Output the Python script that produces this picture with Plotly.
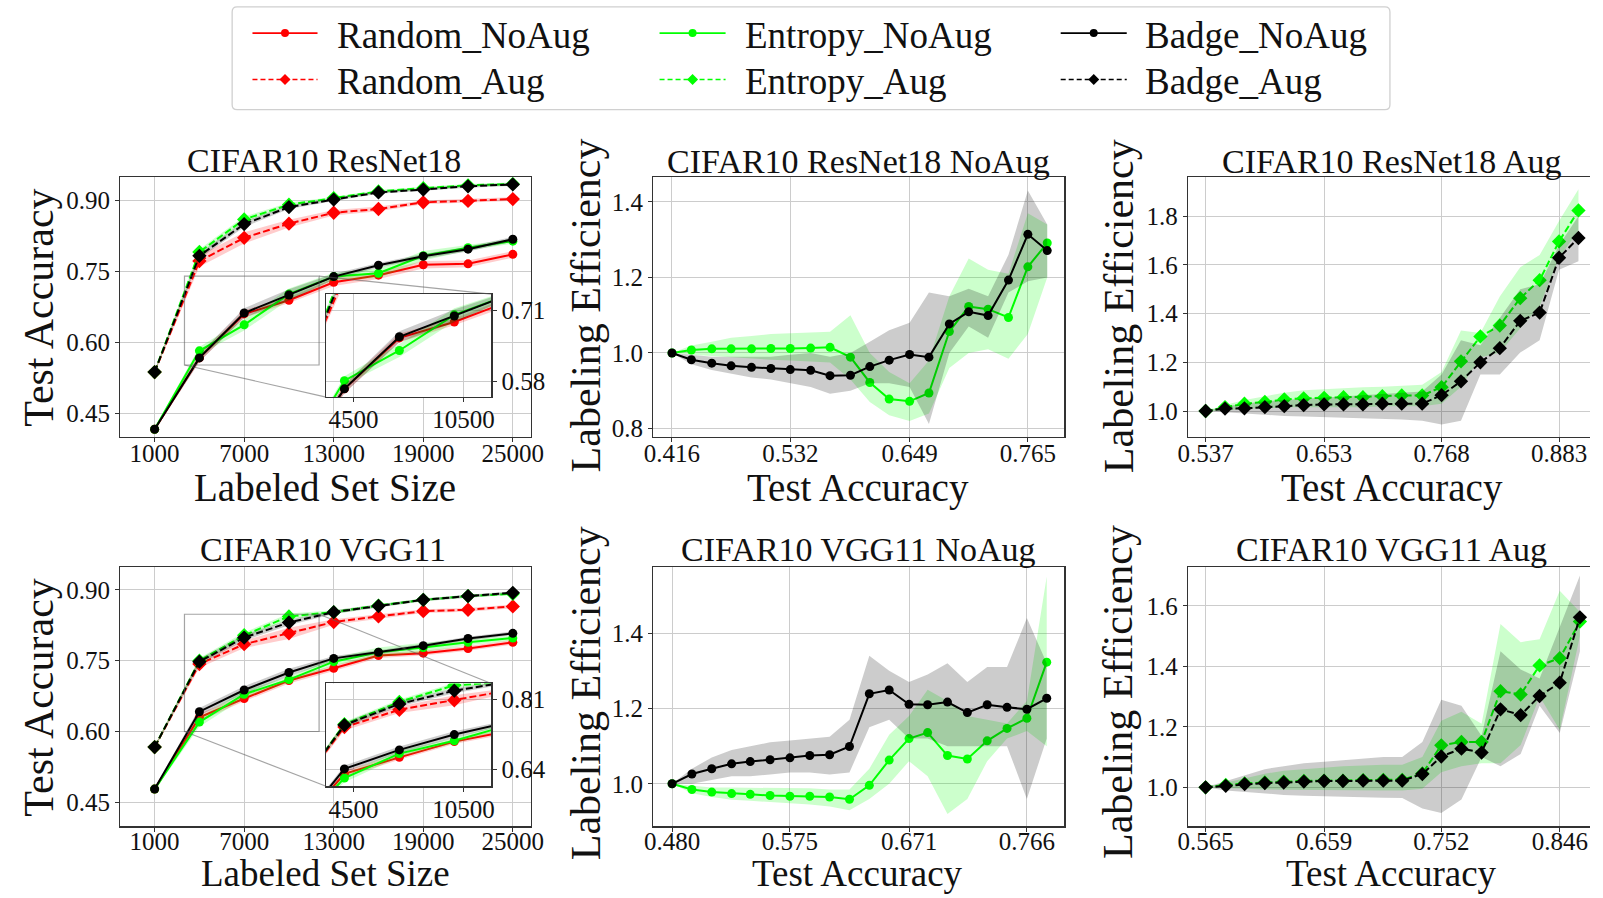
import plotly.graph_objects as go

W, H = 1603, 898
FONT = "Liberation Serif"

# ---------------- data ----------------
sizes = [1000, 4000, 7000, 10000, 13000, 16000, 19000, 22000, 25000]

# CIFAR10 ResNet18 test accuracy (mean, spread)
r18 = {
    "Random_NoAug":  [0.416, 0.567, 0.660, 0.689, 0.727, 0.742, 0.764, 0.766, 0.786],
    "Random_Aug":    [0.537, 0.772, 0.821, 0.851, 0.874, 0.882, 0.896, 0.899, 0.903],
    "Entropy_NoAug": [0.416, 0.582, 0.637, 0.702, 0.739, 0.746, 0.783, 0.800, 0.814],
    "Entropy_Aug":   [0.537, 0.791, 0.860, 0.891, 0.905, 0.919, 0.926, 0.932, 0.935],
    "Badge_NoAug":   [0.416, 0.567, 0.662, 0.700, 0.739, 0.763, 0.782, 0.797, 0.818],
    "Badge_Aug":     [0.537, 0.783, 0.850, 0.886, 0.902, 0.917, 0.923, 0.930, 0.934],
}
r18_sd = {
    "Random_NoAug":  [0.003, 0.008, 0.008, 0.006, 0.008, 0.008, 0.008, 0.007, 0.007],
    "Random_Aug":    [0.003, 0.012, 0.012, 0.008, 0.006, 0.005, 0.004, 0.004, 0.004],
    "Entropy_NoAug": [0.003, 0.008, 0.012, 0.012, 0.008, 0.010, 0.010, 0.006, 0.005],
    "Entropy_Aug":   [0.003, 0.006, 0.006, 0.004, 0.003, 0.003, 0.003, 0.003, 0.003],
    "Badge_NoAug":   [0.003, 0.008, 0.010, 0.012, 0.006, 0.005, 0.005, 0.005, 0.005],
    "Badge_Aug":     [0.003, 0.006, 0.006, 0.004, 0.003, 0.003, 0.003, 0.003, 0.003],
}
# CIFAR10 VGG11 test accuracy
vgg = {
    "Random_NoAug":  [0.478, 0.630, 0.670, 0.708, 0.734, 0.761, 0.766, 0.776, 0.789],
    "Random_Aug":    [0.567, 0.743, 0.785, 0.808, 0.832, 0.844, 0.855, 0.858, 0.865],
    "Entropy_NoAug": [0.478, 0.620, 0.679, 0.710, 0.748, 0.768, 0.778, 0.789, 0.798],
    "Entropy_Aug":   [0.567, 0.750, 0.804, 0.844, 0.853, 0.867, 0.879, 0.887, 0.892],
    "Badge_NoAug":   [0.478, 0.642, 0.688, 0.725, 0.755, 0.768, 0.782, 0.797, 0.808],
    "Badge_Aug":     [0.567, 0.748, 0.799, 0.831, 0.853, 0.866, 0.879, 0.887, 0.894],
}
vgg_sd = {
    "Random_NoAug":  [0.003, 0.008, 0.006, 0.006, 0.006, 0.005, 0.005, 0.005, 0.005],
    "Random_Aug":    [0.003, 0.008, 0.008, 0.012, 0.006, 0.005, 0.004, 0.004, 0.004],
    "Entropy_NoAug": [0.003, 0.010, 0.008, 0.006, 0.008, 0.010, 0.010, 0.006, 0.005],
    "Entropy_Aug":   [0.003, 0.006, 0.006, 0.006, 0.004, 0.003, 0.003, 0.003, 0.003],
    "Badge_NoAug":   [0.003, 0.008, 0.008, 0.008, 0.005, 0.004, 0.004, 0.004, 0.004],
    "Badge_Aug":     [0.003, 0.006, 0.006, 0.006, 0.004, 0.003, 0.003, 0.003, 0.003],
}

# Labeling efficiency: ResNet18 NoAug
r18_noaug_acc = [0.416, 0.435, 0.455, 0.474, 0.494, 0.513, 0.532, 0.552, 0.571, 0.591,
                 0.610, 0.629, 0.649, 0.668, 0.688, 0.707, 0.726, 0.746, 0.765, 0.784]
r18_noaug_ent = [1.0, 1.008, 1.011, 1.011, 1.011, 1.012, 1.012, 1.013, 1.015, 0.989,
                 0.922, 0.878, 0.872, 0.894, 1.057, 1.123, 1.116, 1.094, 1.228, 1.291]
r18_noaug_ent_hi = [1.0, 1.02, 1.03, 1.04, 1.045, 1.05, 1.052, 1.054, 1.056, 1.10,
                    1.00, 0.95, 0.92, 0.98, 1.15, 1.25, 1.22, 1.21, 1.37, 1.34]
r18_noaug_ent_lo = [1.0, 0.995, 0.99, 0.988, 0.985, 0.982, 0.98, 0.978, 0.975, 0.93,
                    0.87, 0.835, 0.82, 0.84, 0.96, 1.00, 1.01, 0.985, 1.05, 1.20]
r18_noaug_bdg = [1.0, 0.982, 0.973, 0.966, 0.962, 0.959, 0.956, 0.954, 0.940, 0.941,
                 0.964, 0.981, 0.996, 0.989, 1.077, 1.109, 1.099, 1.193, 1.314, 1.271]
r18_noaug_bdg_hi = [1.0, 0.995, 0.99, 0.99, 0.99, 0.99, 0.995, 1.0, 0.99, 1.0,
                    1.03, 1.06, 1.08, 1.16, 1.15, 1.17, 1.15, 1.26, 1.43, 1.34]
r18_noaug_bdg_lo = [1.0, 0.97, 0.955, 0.945, 0.935, 0.93, 0.92, 0.91, 0.892, 0.90,
                    0.92, 0.92, 0.91, 0.812, 1.00, 1.07, 1.04, 1.16, 1.19, 1.20]

# Labeling efficiency: ResNet18 Aug
r18_aug_acc = [0.537, 0.556, 0.575, 0.595, 0.614, 0.633, 0.653, 0.672, 0.691, 0.710,
               0.729, 0.749, 0.768, 0.787, 0.806, 0.825, 0.845, 0.864, 0.883, 0.902]
r18_aug_ent = [1.0, 1.016, 1.030, 1.037, 1.048, 1.052, 1.054, 1.057, 1.057, 1.061,
               1.064, 1.064, 1.098, 1.204, 1.306, 1.351, 1.463, 1.537, 1.696, 1.823]
r18_aug_ent_hi = [1.0, 1.025, 1.045, 1.06, 1.075, 1.085, 1.09, 1.095, 1.098, 1.10,
                  1.105, 1.108, 1.16, 1.33, 1.32, 1.47, 1.59, 1.64, 1.78, 1.91]
r18_aug_ent_lo = [1.0, 1.0, 1.01, 1.01, 1.015, 1.015, 1.015, 1.015, 1.015, 1.02,
                  1.02, 1.02, 1.03, 1.10, 1.22, 1.24, 1.34, 1.43, 1.63, 1.74]
r18_aug_bdg = [1.0, 1.010, 1.011, 1.016, 1.020, 1.024, 1.027, 1.027, 1.027, 1.030,
               1.030, 1.030, 1.065, 1.122, 1.200, 1.258, 1.370, 1.404, 1.629, 1.710]
r18_aug_bdg_hi = [1.0, 1.02, 1.03, 1.04, 1.045, 1.05, 1.055, 1.06, 1.065, 1.07,
                  1.075, 1.08, 1.15, 1.29, 1.27, 1.38, 1.50, 1.52, 1.68, 1.80]
r18_aug_bdg_lo = [1.0, 0.995, 0.99, 0.985, 0.98, 0.978, 0.975, 0.972, 0.97, 0.968,
                  0.965, 0.96, 0.945, 0.96, 1.15, 1.15, 1.24, 1.29, 1.58, 1.615]

# Labeling efficiency: VGG11 NoAug
vgg_noaug_acc = [0.480, 0.496, 0.512, 0.528, 0.543, 0.559, 0.575, 0.591, 0.607, 0.623,
                 0.639, 0.655, 0.671, 0.686, 0.702, 0.718, 0.734, 0.750, 0.766, 0.782]
vgg_noaug_ent = [1.0, 0.985, 0.978, 0.974, 0.972, 0.969, 0.967, 0.967, 0.965, 0.959,
                 0.996, 1.063, 1.120, 1.136, 1.075, 1.066, 1.114, 1.147, 1.174, 1.323]
vgg_noaug_ent_hi = [1.0, 0.995, 0.99, 0.99, 0.99, 0.99, 0.988, 0.988, 0.985, 0.985,
                    1.04, 1.13, 1.18, 1.25, 1.22, 1.18, 1.17, 1.16, 1.22, 1.55]
vgg_noaug_ent_lo = [1.0, 0.975, 0.965, 0.958, 0.955, 0.95, 0.948, 0.945, 0.94, 0.93,
                    0.96, 1.00, 1.06, 1.02, 0.92, 0.96, 1.06, 1.12, 1.14, 1.10]
vgg_noaug_bdg = [1.0, 1.026, 1.040, 1.053, 1.059, 1.064, 1.069, 1.075, 1.077, 1.099,
                 1.239, 1.249, 1.211, 1.210, 1.217, 1.189, 1.210, 1.203, 1.198, 1.227]
vgg_noaug_bdg_hi = [1.0, 1.04, 1.07, 1.09, 1.10, 1.11, 1.115, 1.12, 1.125, 1.17,
                    1.34, 1.30, 1.27, 1.29, 1.32, 1.27, 1.31, 1.31, 1.44, 1.32]
vgg_noaug_bdg_lo = [1.0, 1.0, 1.01, 1.02, 1.02, 1.025, 1.03, 1.03, 1.025, 1.03,
                    1.15, 1.17, 1.12, 1.12, 1.10, 1.10, 1.10, 1.10, 0.96, 1.12]

# Labeling efficiency: VGG11 Aug
vgg_aug_acc = [0.565, 0.581, 0.596, 0.612, 0.627, 0.643, 0.659, 0.674, 0.690, 0.706,
               0.721, 0.737, 0.752, 0.768, 0.784, 0.799, 0.815, 0.830, 0.846, 0.862]
vgg_aug_ent = [1.0, 1.008, 1.013, 1.016, 1.019, 1.021, 1.022, 1.022, 1.024, 1.025,
               1.025, 1.046, 1.139, 1.150, 1.150, 1.318, 1.307, 1.403, 1.427, 1.548]
vgg_aug_ent_hi = [1.0, 1.015, 1.03, 1.045, 1.055, 1.06, 1.065, 1.07, 1.072, 1.075,
                  1.075, 1.10, 1.22, 1.25, 1.21, 1.54, 1.48, 1.49, 1.65, 1.58]
vgg_aug_ent_lo = [1.0, 0.998, 0.995, 0.993, 0.992, 0.99, 0.99, 0.99, 0.99, 0.99,
                  0.99, 0.995, 1.05, 1.07, 1.08, 1.08, 1.14, 1.30, 1.19, 1.50]
vgg_aug_bdg = [1.0, 1.005, 1.011, 1.014, 1.016, 1.019, 1.021, 1.021, 1.022, 1.022,
               1.022, 1.044, 1.102, 1.128, 1.115, 1.258, 1.239, 1.302, 1.346, 1.562]
vgg_aug_bdg_hi = [1.0, 1.02, 1.04, 1.06, 1.07, 1.08, 1.085, 1.09, 1.095, 1.10,
                  1.10, 1.15, 1.29, 1.27, 1.17, 1.45, 1.39, 1.36, 1.53, 1.70]
vgg_aug_bdg_lo = [1.0, 0.99, 0.985, 0.98, 0.975, 0.972, 0.97, 0.968, 0.967, 0.966,
                  0.965, 0.93, 0.915, 0.96, 1.10, 1.07, 1.11, 1.27, 1.18, 1.45]

size_ticks = [1000, 7000, 13000, 19000, 25000]
size_ticktext = ["1000", "7000", "13000", "19000", "25000"]
acc_ticks = [0.45, 0.60, 0.75, 0.90]
inset_x_ticks = [4500, 10500]
inset_r18_y_ticks = [0.58, 0.71]
inset_vgg_y_ticks = [0.64, 0.81]

series_order = ["Random_NoAug", "Random_Aug", "Entropy_NoAug", "Entropy_Aug",
                "Badge_NoAug", "Badge_Aug"]

# ---------------- styles ----------------
COL = {"Random": "#ff0000", "Entropy": "#00ff00", "Badge": "#000000"}
BAND = {"Random": "rgba(255,0,0,0.2)", "Entropy": "rgba(0,255,0,0.2)",
        "Badge": "rgba(0,0,0,0.2)"}


def style_of(name):
    method, aug = name.split("_")
    if aug == "Aug":
        return COL[method], BAND[method], "7px,3px", "diamond", 11
    return COL[method], BAND[method], "solid", "circle", 9


fig = go.Figure()


def add_band(x, lo, hi, fillcolor, ax):
    fig.add_trace(go.Scatter(
        x=list(x) + list(x)[::-1], y=list(hi) + list(lo)[::-1],
        fill="toself", fillcolor=fillcolor, line=dict(width=0),
        mode="lines", hoverinfo="skip", showlegend=False,
        xaxis="x" + ax, yaxis="y" + ax))


def add_line(x, y, name, ax):
    c, b, dash, sym, ms = style_of(name)
    fig.add_trace(go.Scatter(
        x=x, y=y, mode="lines+markers", name=name, showlegend=False,
        line=dict(color=c, width=2, dash=dash),
        marker=dict(color=c, symbol=sym, size=ms, line=dict(width=0)),
        xaxis="x" + ax, yaxis="y" + ax))


def acc_panel(data, sd, ax):
    for name in series_order:
        c, b, *_ = style_of(name)
        y = data[name]
        s = sd[name]
        add_band(sizes, [v - e for v, e in zip(y, s)],
                 [v + e for v, e in zip(y, s)], b, ax)
        add_line(sizes, y, name, ax)


def le_panel(x, ent, ent_lo, ent_hi, bdg, bdg_lo, bdg_hi, aug, ax):
    suffix = "Aug" if aug else "NoAug"
    add_band(x, ent_lo, ent_hi, BAND["Entropy"], ax)
    add_line(x, ent, "Entropy_" + suffix, ax)
    add_band(x, bdg_lo, bdg_hi, BAND["Badge"], ax)
    add_line(x, bdg, "Badge_" + suffix, ax)


acc_panel(r18, r18_sd, "")
le_panel(r18_noaug_acc, r18_noaug_ent, r18_noaug_ent_lo, r18_noaug_ent_hi,
         r18_noaug_bdg, r18_noaug_bdg_lo, r18_noaug_bdg_hi, False, "2")
le_panel(r18_aug_acc, r18_aug_ent, r18_aug_ent_lo, r18_aug_ent_hi,
         r18_aug_bdg, r18_aug_bdg_lo, r18_aug_bdg_hi, True, "3")
acc_panel(vgg, vgg_sd, "4")
le_panel(vgg_noaug_acc, vgg_noaug_ent, vgg_noaug_ent_lo, vgg_noaug_ent_hi,
         vgg_noaug_bdg, vgg_noaug_bdg_lo, vgg_noaug_bdg_hi, False, "5")
le_panel(vgg_aug_acc, vgg_aug_ent, vgg_aug_ent_lo, vgg_aug_ent_hi,
         vgg_aug_bdg, vgg_aug_bdg_lo, vgg_aug_bdg_hi, True, "6")
acc_panel(r18, r18_sd, "7")   # zoom inset ResNet18
acc_panel(vgg, vgg_sd, "8")   # zoom inset VGG11

# ---------------- layout geometry (pixels) ----------------
def px(p):
    return p / W


def py(p):
    return 1 - p / H


LX, MX, RX = (111.9, 528.3), (652.7, 1069.7), (1195.2, 1603.0)
TY, BY = (178.3, 439.3), (570.0, 831.0)
IX, ITY, IBY = (320.7, 488.3), (295.7, 399.3), (687.3, 790.7)


def xdom(a):
    return [px(a[0]), px(a[1])]


def ydom(a):
    return [py(a[1]), py(a[0])]


TICKFONT = dict(family=FONT, size=25, color="#111111")


def axis(dom, rng, anchor, tickvals, ticktext=None, tickformat=None,
         mirror=True, side=None, standoff=None):
    d = dict(domain=dom, range=rng, anchor=anchor, showline=True,
             linecolor="#333333", linewidth=1.3, mirror=mirror,
             ticks="outside", ticklen=4, tickwidth=1, tickcolor="#333333",
             showgrid=True, gridcolor="#cccccc", gridwidth=1, zeroline=False,
             tickfont=TICKFONT, tickvals=tickvals, fixedrange=True)
    if ticktext is not None:
        d["ticktext"] = ticktext
    if tickformat is not None:
        d["tickformat"] = tickformat
    if side is not None:
        d["side"] = side
    if standoff is not None:
        d["ticklabelstandoff"] = standoff
    return d


def pick(lst):
    return [lst[0], lst[6], lst[12], lst[18]]


def fmt3(lst):
    return ["%.3f" % v for v in pick(lst)]


R18_INSET_X, R18_INSET_Y = [3000, 12020], [0.552, 0.740]
VGG_INSET_X, VGG_INSET_Y = [3000, 12020], [0.600, 0.8485]
XS = -10   # x tick label standoff (top row)
XSB = -12  # x tick label standoff (bottom row)
XSI = -4   # x tick label standoff (insets)

layout_axes = dict(
    xaxis=axis(xdom(LX), [-1300, 26200], "y", size_ticks, size_ticktext, standoff=XS),
    yaxis=axis(ydom(TY), [0.400, 0.949], "x", acc_ticks, tickformat=".2f"),
    xaxis2=axis(xdom(MX), [0.3977, 0.8008], "y2", pick(r18_noaug_acc), fmt3(r18_noaug_acc),
                standoff=XS),
    yaxis2=axis(ydom(TY), [0.778, 1.465], "x2", [0.8, 1.0, 1.2, 1.4], tickformat=".1f"),
    xaxis3=axis(xdom(RX), [0.5198, 0.9133], "y3", pick(r18_aug_acc), fmt3(r18_aug_acc),
                standoff=XS),
    yaxis3=axis(ydom(TY), [0.894, 1.959], "x3", [1.0, 1.2, 1.4, 1.6, 1.8],
                tickformat=".1f", mirror=False),
    xaxis4=axis(xdom(LX), [-1300, 26200], "y4", size_ticks, size_ticktext, standoff=XSB),
    yaxis4=axis(ydom(BY), [0.399, 0.949], "x4", acc_ticks, tickformat=".2f"),
    xaxis5=axis(xdom(MX), [0.4649, 0.7962], "y5", pick(vgg_noaug_acc), fmt3(vgg_noaug_acc),
                standoff=XSB),
    yaxis5=axis(ydom(BY), [0.887, 1.576], "x5", [1.0, 1.2, 1.4], tickformat=".1f"),
    xaxis6=axis(xdom(RX), [0.5511, 0.870], "y6", pick(vgg_aug_acc), fmt3(vgg_aug_acc),
                standoff=XSB),
    yaxis6=axis(ydom(BY), [0.871, 1.729], "x6", [1.0, 1.2, 1.4, 1.6],
                tickformat=".1f", mirror=False),
    xaxis7=axis(xdom(IX), R18_INSET_X, "y7", inset_x_ticks, ["4500", "10500"], standoff=XSI),
    yaxis7=axis(ydom(ITY), R18_INSET_Y, "x7", inset_r18_y_ticks, tickformat=".2f", side="right"),
    xaxis8=axis(xdom(IX), VGG_INSET_X, "y8", inset_x_ticks, ["4500", "10500"], standoff=XSI),
    yaxis8=axis(ydom(IBY), VGG_INSET_Y, "x8", inset_vgg_y_ticks, tickformat=".2f", side="right"),
)

# ---------------- shapes: zoom indicators ----------------
shapes = []
GRAYLINE = dict(color="rgba(90,90,90,0.55)", width=1.2)


def data_to_paper(v, rng, dom):
    return dom[0] + (v - rng[0]) / (rng[1] - rng[0]) * (dom[1] - dom[0])


def zoom_marks(xa, ya, main_xr, main_yr, main_xd, main_yd, in_xr, in_yr, in_xd, in_yd):
    shapes.append(dict(type="rect", xref=xa, yref=ya, x0=in_xr[0], x1=in_xr[1],
                       y0=in_yr[0], y1=in_yr[1], line=GRAYLINE, layer="above"))
    for k in (0, 1):
        x0 = data_to_paper(in_xr[k], main_xr, main_xd)
        y0 = data_to_paper(in_yr[k], main_yr, main_yd)
        shapes.append(dict(type="line", xref="paper", yref="paper",
                           x0=x0, y0=y0, x1=in_xd[k], y1=in_yd[k],
                           line=GRAYLINE, layer="above"))


zoom_marks("x", "y", [-1300, 26200], [0.400, 0.949], xdom(LX), ydom(TY),
           R18_INSET_X, R18_INSET_Y, xdom(IX), ydom(ITY))
zoom_marks("x4", "y4", [-1300, 26200], [0.399, 0.949], xdom(LX), ydom(BY),
           VGG_INSET_X, VGG_INSET_Y, xdom(IX), ydom(IBY))

# ---------------- legend (drawn manually) ----------------
LEG_BOX = (233.8, 7.3, 1391.6, 110.0)
bw, bh = LEG_BOX[2] - LEG_BOX[0], LEG_BOX[3] - LEG_BOX[1]
cxp, cyp = (LEG_BOX[0] + LEG_BOX[2]) / 2, (LEG_BOX[1] + LEG_BOX[3]) / 2
r = 5
hw, hh = bw / 2, bh / 2
path = (f"M {-hw + r},{-hh} L {hw - r},{-hh} Q {hw},{-hh} {hw},{-hh + r} "
        f"L {hw},{hh - r} Q {hw},{hh} {hw - r},{hh} L {-hw + r},{hh} "
        f"Q {-hw},{hh} {-hw},{hh - r} L {-hw},{-hh + r} Q {-hw},{-hh} {-hw + r},{-hh} Z")
shapes.append(dict(type="path", xref="paper", yref="paper", xsizemode="pixel",
                   ysizemode="pixel", xanchor=px(cxp), yanchor=py(cyp), path=path,
                   line=dict(color="#d0d0d0", width=1.3), fillcolor="rgba(255,255,255,0.8)",
                   layer="below"))

legend_cols = [(246, 312, 331), (659, 726, 744.5), (1066, 1133, 1150.7)]
legend_rows = [(33.3, 35.3), (80.0, 81.7)]
legend_names = [["Random_NoAug", "Entropy_NoAug", "Badge_NoAug"],
                ["Random_Aug", "Entropy_Aug", "Badge_Aug"]]
annotations = []
for ri, (ly, ty) in enumerate(legend_rows):
    for ci, (l0, l1, tx) in enumerate(legend_cols):
        name = legend_names[ri][ci]
        c, b, dash, sym, ms = style_of(name)
        shapes.append(dict(type="line", xref="paper", yref="paper",
                           x0=px(l0), x1=px(l1), y0=py(ly), y1=py(ly),
                           line=dict(color=c, width=1.6,
                                     dash="5px,3px" if dash != "solid" else "solid")))
        mx = px((l0 + l1) / 2)
        if sym == "circle":
            shapes.append(dict(type="circle", xref="paper", yref="paper",
                               xsizemode="pixel", ysizemode="pixel", xanchor=mx,
                               yanchor=py(ly), x0=-4, x1=4, y0=-4, y1=4,
                               fillcolor=c, line=dict(width=0)))
        else:
            shapes.append(dict(type="path", xref="paper", yref="paper",
                               xsizemode="pixel", ysizemode="pixel", xanchor=mx,
                               yanchor=py(ly), path="M -5.5,0 L 0,5.5 L 5.5,0 L 0,-5.5 Z",
                               fillcolor=c, line=dict(width=0)))
        annotations.append(dict(text=name, x=px(tx), y=py(ty), xref="paper", yref="paper",
                                xanchor="left", yanchor="middle", showarrow=False,
                                borderpad=0,
                                font=dict(family=FONT, size=37, color="#111111")))

# ---------------- titles and axis titles ----------------
def label(text, x, y, size, angle=0):
    annotations.append(dict(text=text, x=px(x), y=py(y), xref="paper", yref="paper",
                            xanchor="center", yanchor="middle", showarrow=False,
                            textangle=angle, borderpad=0,
                            font=dict(family=FONT, size=size, color="#111111")))


titles = [("CIFAR10 ResNet18", 319, 161), ("CIFAR10 ResNet18 NoAug", 861, 162),
          ("CIFAR10 ResNet18 Aug", 1402, 162), ("CIFAR10 VGG11", 318, 553),
          ("CIFAR10 VGG11 NoAug", 861, 553), ("CIFAR10 VGG11 Aug", 1402, 553)]
for t, x, y in titles:
    label(t, x, y, 34)

xtitles_top = [("Labeled Set Size", 320, 490.5), ("Test Accuracy", 860, 490.5),
               ("Test Accuracy", 1402, 490.5)]
for t, x, y in xtitles_top:
    label(t, x, y, 39)
xtitles_bottom = [("Labeled Set Size", 320, 878), ("Test Accuracy", 860, 878),
                  ("Test Accuracy", 1402, 878)]
for t, x, y in xtitles_bottom:
    label(t, x, y, 37)

ytitles = [("Test Accuracy", 30, 310), ("Labeling Efficiency", 584, 307.5),
           ("Labeling Efficiency", 1125, 308), ("Test Accuracy", 30, 702),
           ("Labeling Efficiency", 584, 697.5), ("Labeling Efficiency", 1124, 696)]
for t, x, y in ytitles:
    label(t, x, y, 42, angle=-90)

fig.update_layout(
    width=W, height=H, autosize=False,
    margin=dict(l=0, r=0, t=0, b=0, pad=0),
    paper_bgcolor="white", plot_bgcolor="white",
    showlegend=False, shapes=shapes, annotations=annotations,
    font=dict(family=FONT, color="#111111"),
    **layout_axes,
)

fig.write_html("out.html", include_plotlyjs=True, full_html=True,
               config={"displayModeBar": False, "staticPlot": True})
